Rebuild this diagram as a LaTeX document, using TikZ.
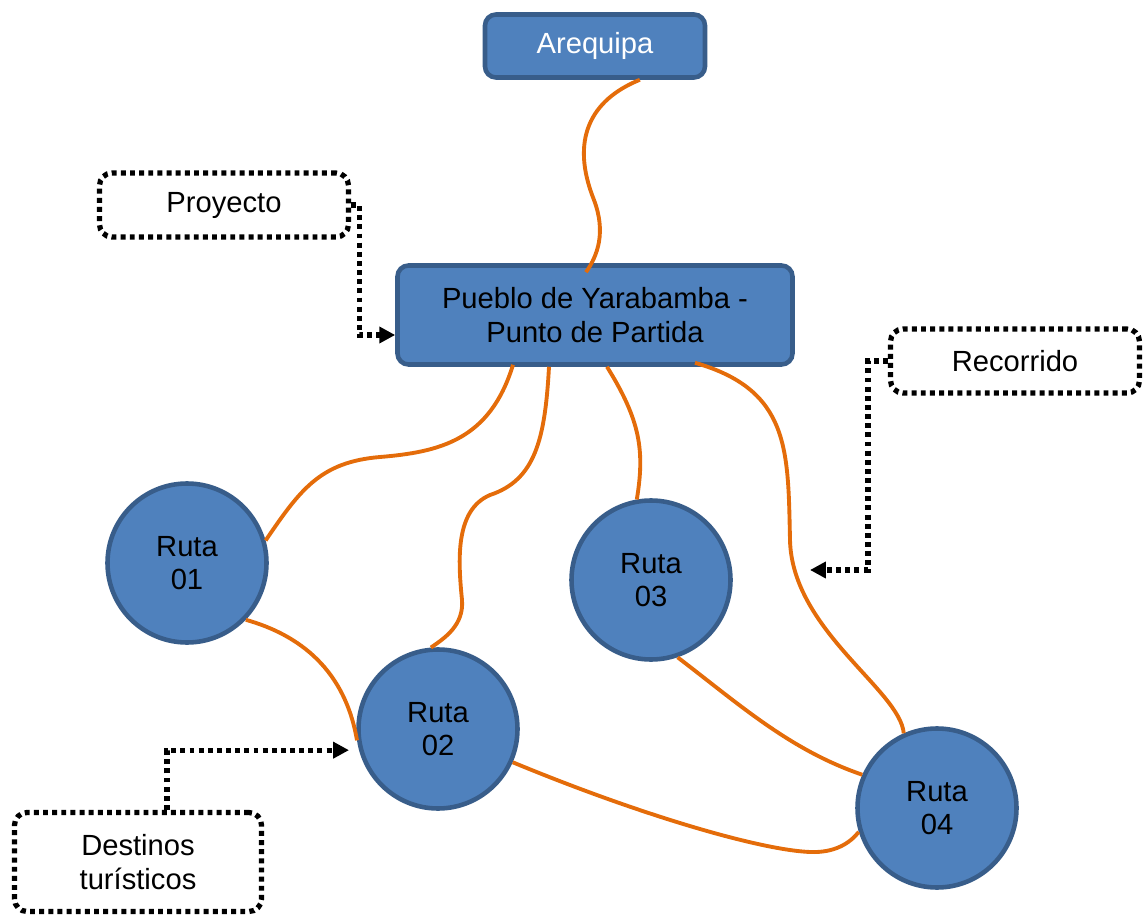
\documentclass[tikz,border=0pt]{standalone}
\usepackage{fontspec}
\setmainfont{Liberation Sans}
\usetikzlibrary{arrows.meta,calc}
\definecolor{boxblue}{RGB}{79,129,189}
\definecolor{boxedge}{RGB}{56,93,138}
\definecolor{road}{RGB}{228,108,10}
\begin{document}
\begin{tikzpicture}[x=0.2mm,y=-0.2mm, every node/.style={font=\fontsize{16.6}{19}\selectfont,align=center},
  place/.style={rectangle,draw=boxedge,line width=2.6pt,fill=boxblue,rounded corners=2.2mm},
  ruta/.style={circle,draw=boxedge,line width=2.6pt,fill=boxblue,minimum size=31.8mm,inner sep=0pt},
  note/.style={rectangle,draw,fill=white,line width=3pt,dash pattern=on 2.8pt off 2.4pt,rounded corners=2.5mm},
  edge/.style={road,line width=2.2pt},
  pointer/.style={line width=3pt,dash pattern=on 2.8pt off 2.4pt,-{Triangle[length=9pt,width=9pt]}}]
  \useasboundingbox (0,0) rectangle (1146,918);
  \node[place,text=white,minimum width=44mm,minimum height=12.6mm] (are) at (595,46) {Arequipa};
  \node[place,minimum width=79mm,minimum height=19.8mm] (pueblo) at (595,315) {Pueblo de Yarabamba -\\Punto de Partida};
  \node[note,minimum width=49.8mm,minimum height=12.8mm] (proy) at (224,205) {Proyecto};
  \node[note,minimum width=49.8mm,minimum height=12.8mm] (reco) at (1015,361) {Recorrido};
  \node[note,minimum width=49.4mm,minimum height=19.8mm] (dest) at (138,862) {Destinos\\turísticos};
  \node[ruta] (r01) at (187,563) {Ruta\\01};
  \node[ruta] (r02) at (438,729) {Ruta\\02};
  \node[ruta] (r03) at (651,580) {Ruta\\03};
  \node[ruta] (r04) at (937,808) {Ruta\\04};
  \coordinate (recotip) at (810,570);
  \draw[edge] (are.-37) .. controls (590,100) and (570,140) .. (594,200) .. controls (606,232) and (598,255) .. ($(pueblo.north)+(-9,9)$);
  \draw[edge] ($(pueblo.south)+(-82,-2)$) .. controls (490,440) and (440,452) .. (380,457) .. controls (320,462) and (300,490) .. (r01.16);
  \draw[edge] ($(pueblo.south)+(-46,0)$) .. controls (545,440) and (535,480) .. (490,495) .. controls (455,510) and (458,560) .. (462,600) .. controls (464,625) and (445,638) .. (r02.95);
  \draw[edge] ($(pueblo.south)+(12,0)$) .. controls (640,420) and (645,450) .. (r03.100);
  \draw[edge] ($(pueblo.south)+(100,-4)$) .. controls (790,390) and (788,450) .. (790,540) .. controls (792,630) and (900,690) .. (r04.114);
  \draw[edge] (r01.-44) .. controls (300,635) and (345,670) .. (r02.188);
  \draw[edge] (r02.-24) .. controls (640,815) and (760,850) .. (810,852) .. controls (835,853) and (850,843) .. (r04.197);
  \draw[edge] (r03.-71) .. controls (740,705) and (790,750) .. (r04.156);
  \draw[pointer] (proy.east) -- ++(8,0) |- ([yshift=-4mm]pueblo.west);
  \draw[pointer] (reco.west) -- ++(-20,0) |- (recotip);
  \draw[pointer] ([xshift=5.8mm]dest.north) |- ([xshift=-2mm]r02.195);
\end{tikzpicture}
\end{document}
